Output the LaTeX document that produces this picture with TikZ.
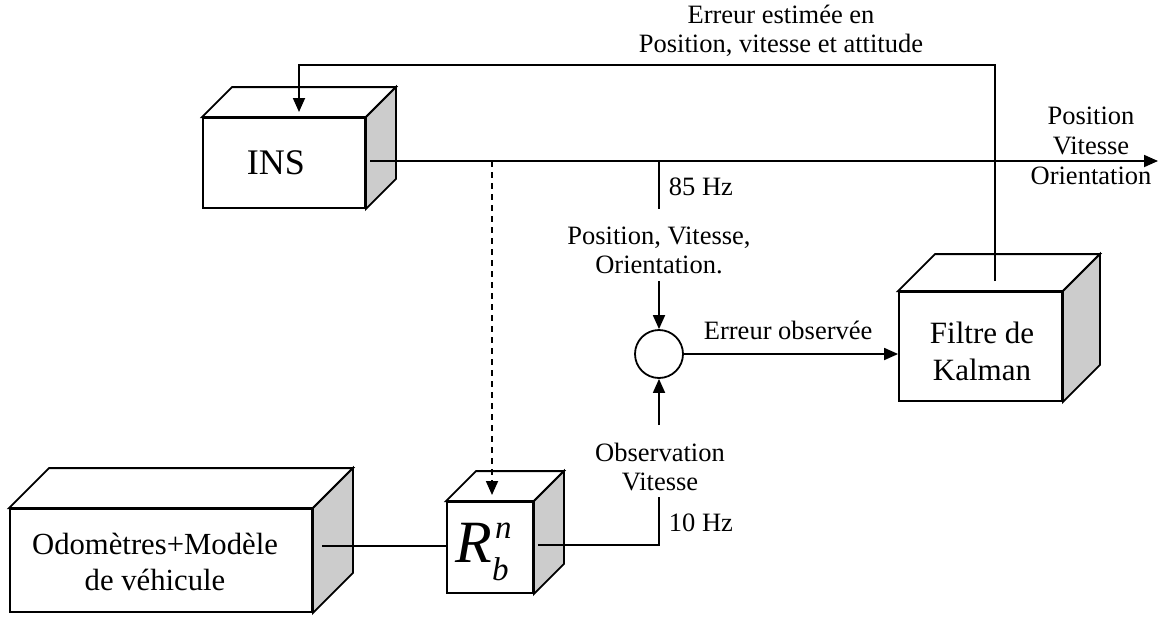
\documentclass[tikz,border=0pt]{standalone}
\usepackage{fontspec}
\setmainfont{Liberation Serif}
\usetikzlibrary{arrows.meta}
\definecolor{sidegray}{RGB}{204,204,204}
\newcommand\mycube[2]{% name, depth
  \draw[fill=white] (#1.north west) -- ++(#2,-#2) -- ([shift={(#2,-#2)}]#1.north east) -- (#1.north east) -- cycle;
  \draw[fill=sidegray] (#1.north east) -- ++(#2,-#2) -- ([shift={(#2,-#2)}]#1.south east) -- (#1.south east) -- cycle;
}
\newcommand\myscriptsize{\fontsize{33}{33}\selectfont\itshape}
\begin{document}
\begin{tikzpicture}[x=1pt,y=-1pt, line width=1.8pt, line join=miter,
  box/.style={draw, fill=white, inner sep=0pt},
  lbl/.style={font=\fontsize{26.5}{29}\selectfont, inner sep=0pt, align=center},
  arr/.style={-{Triangle[length=14pt,width=12pt]}},
  ]
\useasboundingbox (0,0) rectangle (1159,616);

% boxes (front faces)
\node[box, minimum width=162pt, minimum height=90pt] (ins) at (284,163) {};
\node[box, minimum width=163pt, minimum height=109pt] (kal) at (980.5,346.5) {};
\node[box, minimum width=302pt, minimum height=103pt] (odo) at (161,560.5) {};
\node[box, minimum width=86pt, minimum height=91pt] (rbn) at (490,547.5) {};
\mycube{ins}{30}
\mycube{kal}{37}
\mycube{odo}{40}
\mycube{rbn}{30}

% box texts
\node[lbl] (inst) at (276,163) {\fontsize{36}{40}\selectfont INS};
\node[lbl, font=\fontsize{31}{37}\selectfont] (kalt) at (982,351) {Filtre de\\Kalman};
\node[lbl, font=\fontsize{30.7}{36}\selectfont] (odot) at (155,562) {Odomètres+Modèle\\de véhicule};
\node[lbl, font=\fontsize{60}{60}\selectfont\itshape] (rbnt) at (482,552) {R\rlap{\hspace{3pt}\raisebox{24pt}{\myscriptsize n}}\raisebox{-18pt}{\myscriptsize b}};

% summing junction
\node[circle, draw, minimum size=48pt, inner sep=0pt] (sum) at (659,354) {};

% coordinates
\coordinate (insout) at (370,161);
\coordinate (outend) at (1158,161);
\coordinate (dsplit) at (492,161);
\coordinate (dtip) at (492,495);
\coordinate (b85) at (659,161);
\coordinate (b85e) at (659,209);
\coordinate (pvo) at (659,281);
\coordinate (rbnout) at (538,545);
\coordinate (rcorner) at (659,545);
\coordinate (rtop) at (659,497);
\coordinate (obs) at (659,425);
\coordinate (odoout) at (322,546);
\coordinate (odoin) at (447,546);
\coordinate (kalfb) at (995,281);
\coordinate (fbr) at (995,65);
\coordinate (fbl) at (299,65);
\coordinate (fbtip) at (299,112);

% connectors
\draw[arr] (insout) -- (outend);
\draw[arr, dash pattern=on 6pt off 5pt] (dsplit) -- (dtip);
\draw (b85) -- (b85e);
\draw[arr] (pvo) -- (sum.north);
\draw (rbnout) -- (rcorner) -- (rtop);
\draw[arr] (obs) -- (sum.south);
\draw (odoout) -- (odoin);
\draw[arr] (sum.east) -- (sum.east -| kal.west);
\draw[arr] (kalfb) -- (fbr) -- (fbl) -- (fbtip);

% labels
\node[lbl] (ltop) at (781,31) {Erreur estimée en\\Position, vitesse et attitude};
\node[lbl, font=\fontsize{26.5}{30}\selectfont] (lout) at (1091,146) {Position\\Vitesse\\Orientation};
\node[lbl, anchor=west] (l85) at (668,187) {85 Hz};
\node[lbl] (lpvo) at (659,250.5) {Position, Vitesse,\\Orientation.};
\node[lbl, anchor=west] (lerr) at (703,330) {Erreur observée};
\node[lbl] (lobs) at (660,467) {Observation\\Vitesse};
\node[lbl, anchor=west] (l10) at (668,523) {10 Hz};
\end{tikzpicture}
\end{document}
